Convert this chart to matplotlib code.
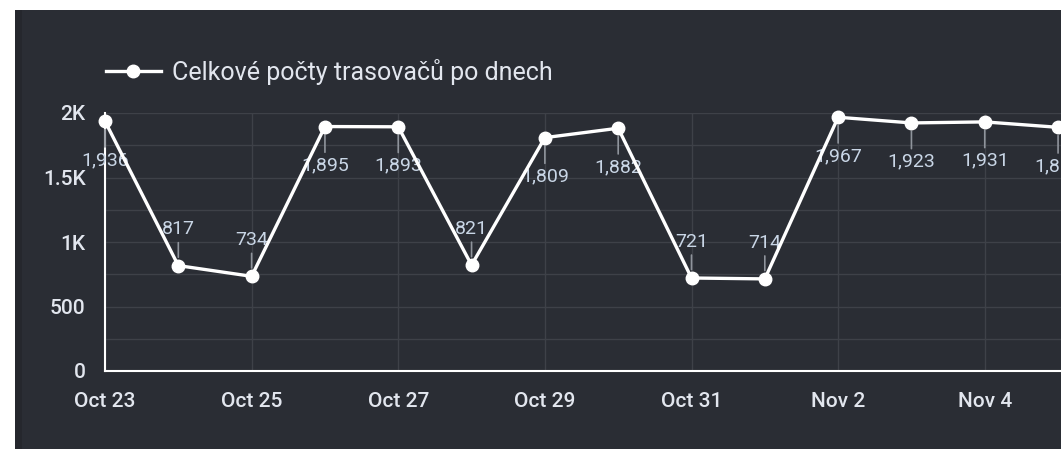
import matplotlib.pyplot as plt
import matplotlib.dates as mdates
from matplotlib.patches import Rectangle
from matplotlib.ticker import MultipleLocator, FuncFormatter
import datetime as dt

plt.rcParams['font.family'] = ['Roboto', 'DejaVu Sans']

days = [dt.date(2020, 10, 23) + dt.timedelta(days=i) for i in range(14)]
counts = [1936, 817, 734, 1895, 1893, 821, 1809, 1882, 721, 714, 1967, 1923, 1931, 1889]
label_text = "Celkové počty trasovačů po dnech"

bg = '#2a2d34'
fig = plt.figure(figsize=(10.61, 4.49), dpi=100, facecolor='white')
fig.patches.append(Rectangle((15 / 1061, 0), 1, 1 - 10 / 449, transform=fig.transFigure,
                             facecolor=bg, edgecolor='none', zorder=-10))
fig.patches.append(Rectangle((15 / 1061, 0), 7 / 1061, 1 - 10 / 449, transform=fig.transFigure,
                             facecolor='#25272d', edgecolor='none', zorder=-9))

ax = fig.add_axes([105 / 1061, 1 - 371 / 449, 1 - 105 / 1061, 258 / 449])
ax.set_facecolor(bg)

x = mdates.date2num(days)
ax.plot(x, counts, color='white', lw=2.4, marker='o', ms=9, clip_on=False,
        zorder=5, label=label_text)

# value labels: below the point for high values, above for low ones
for xi, v in zip(x, counts):
    off = -28 if v > 1000 else 26
    ax.annotate(f"{v:,}", (xi, v), xytext=(0, off), textcoords='offset points',
                ha='center', va='center', color='#c9d6e6', fontsize=14,
                arrowprops=dict(arrowstyle='-', color='#8f949c', lw=1.2,
                                shrinkA=1, shrinkB=6), zorder=4)

ax.set_xlim(x[0], x[-1] + 0.04)
ax.set_ylim(0, 2000)
ax.xaxis.set_major_locator(mdates.DayLocator(interval=2))
ax.xaxis.set_major_formatter(FuncFormatter(lambda v, p: mdates.num2date(v).strftime('%b ') + str(mdates.num2date(v).day)))
ax.yaxis.set_major_locator(MultipleLocator(500))
ax.yaxis.set_minor_locator(MultipleLocator(250))
ax.yaxis.set_major_formatter(FuncFormatter(lambda v, p: '0' if v == 0 else (f"{v/1000:g}K" if v >= 1000 else f"{int(v)}")))

ax.grid(which='major', color='#3e4148', lw=1)
ax.grid(which='minor', axis='y', color='#3e4148', lw=1)
ax.set_axisbelow(True)

for s in ['top', 'right']:
    ax.spines[s].set_visible(False)
for s in ['left', 'bottom']:
    ax.spines[s].set_color('white')
    ax.spines[s].set_linewidth(1.5)

ax.tick_params(which='both', length=0, colors='#e2e6ee', labelsize=15)
ax.tick_params(axis='x', pad=15)
ax.tick_params(axis='y', pad=14)
for t in ax.get_xticklabels() + ax.get_yticklabels():
    t.set_fontweight('medium')

ax.legend(loc='center left', bbox_to_anchor=(83 / 1061, 1 - 72 / 449), bbox_transform=fig.transFigure,
          frameon=False, fontsize=18, handlelength=2.2, handletextpad=0.48, labelcolor='#e2e6ee')

fig.savefig('out.png', dpi=100, facecolor=fig.get_facecolor())
